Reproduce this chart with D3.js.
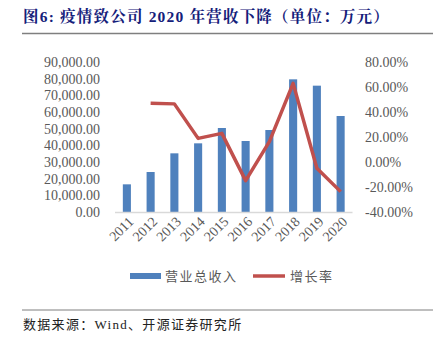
<!DOCTYPE html>
<html><head><meta charset="utf-8">
<script src="https://cdn.jsdelivr.net/npm/d3@7/dist/d3.min.js"></script>
<style>body{margin:0;background:#fff;} svg{display:block;}</style>
</head><body>
<svg id="c" width="445" height="340"></svg>
<script>
const years = ["2011","2012","2013","2014","2015","2016","2017","2018","2019","2020"];
const revenue = [16600, 24000, 35200, 41200, 50400, 42600, 49200, 79600, 75800, 57600];
const growth = [null, 47.0, 46.5, 18.9, 22.9, -14.9, 16.3, 62.9, -5.0, -23.7];
const leftTicks = [0,10000,20000,30000,40000,50000,60000,70000,80000,90000];
const rightTicks = [-40,-20,0,20,40,60,80];
const seriesNames = ["营业总收入","增长率"];

const svg = d3.select("#c");
const serif = "'Liberation Serif','Times New Roman',serif";
const cjk = "'Noto Sans CJK SC',sans-serif";

// Title
svg.append("text").attr("x",23).attr("y",22)
  .attr("font-family", "'Liberation Serif','Noto Serif CJK SC','Noto Sans CJK SC',serif")
  .attr("font-weight","bold").attr("font-size",15.5).attr("fill","#14207a")
  .attr("letter-spacing",1.2)
  .text("图6:  疫情致公司 2020 年营收下降（单位：万元）");
svg.append("line").attr("x1",22).attr("x2",433).attr("y1",33.5).attr("y2",33.5)
  .attr("stroke","#7f7f7f").attr("stroke-width",1.5);

const x = d3.scaleBand().domain(years).range([115,352.5]).paddingInner(0.66).paddingOuter(0.33);
const yL = d3.scaleLinear().domain([0,90000]).range([212,62]);
const yR = d3.scaleLinear().domain([-40,80]).range([212,62]);

// left axis
const fmtL = d3.format(",.2f");
const gL = svg.append("g").attr("transform","translate(100,0)")
  .call(d3.axisLeft(yL).tickValues(leftTicks).tickSize(0).tickPadding(0).tickFormat(fmtL));
gL.select(".domain").remove();
gL.selectAll("text").attr("font-family",serif).attr("font-size",14).attr("fill","#595959");

// right axis
const gR = svg.append("g").attr("transform","translate(365,0)")
  .call(d3.axisRight(yR).tickValues(rightTicks).tickSize(0).tickPadding(0).tickFormat(d=>d.toFixed(2)+"%"));
gR.select(".domain").remove();
gR.selectAll("text").attr("font-family",serif).attr("font-size",14).attr("fill","#595959");

// bars
svg.append("g").selectAll("rect").data(years).join("rect")
  .attr("x",d=>x(d)).attr("width",x.bandwidth())
  .attr("y",(d,i)=>yL(revenue[i])).attr("height",(d,i)=>yL(0)-yL(revenue[i]))
  .attr("fill","#4f81bd");

// x axis line
svg.append("line").attr("x1",115).attr("x2",352.5).attr("y1",212.5).attr("y2",212.5)
  .attr("stroke","#d9d9d9").attr("stroke-width",1.5);

// x labels
svg.append("g").selectAll("text").data(years).join("text")
  .attr("transform",d=>`translate(${x(d)+x.bandwidth()/2+4},219) rotate(-45)`)
  .attr("text-anchor","end").attr("dy","0.35em")
  .attr("font-family",serif).attr("font-size",14).attr("fill","#595959")
  .text(d=>d);

// line
const pts = years.map((d,i)=>({d, v: growth[i]})).filter(p=>p.v!==null);
svg.append("path").datum(pts)
  .attr("d", d3.line().x(p=>x(p.d)+x.bandwidth()/2).y(p=>yR(p.v)))
  .attr("fill","none").attr("stroke","#c0504d").attr("stroke-width",3.5)
  .attr("stroke-linejoin","round");

// legend
svg.append("rect").attr("x",130).attr("y",273).attr("width",31).attr("height",6).attr("fill","#4f81bd");
svg.append("text").attr("x",165).attr("y",281).attr("font-family",cjk).attr("font-size",13)
  .attr("letter-spacing",1.5).attr("fill","#595959").text(seriesNames[0]);
svg.append("line").attr("x1",253).attr("x2",285).attr("y1",276).attr("y2",276)
  .attr("stroke","#c0504d").attr("stroke-width",3.5);
svg.append("text").attr("x",290).attr("y",281).attr("font-family",cjk).attr("font-size",13)
  .attr("letter-spacing",1.5).attr("fill","#595959").text(seriesNames[1]);

// footer
svg.append("line").attr("x1",22).attr("x2",433).attr("y1",310).attr("y2",310)
  .attr("stroke","#7f7f7f").attr("stroke-width",1);
svg.append("text").attr("x",23).attr("y",329)
  .attr("font-family","'Liberation Serif','Noto Sans CJK SC',serif").attr("font-size",13).attr("fill","#222")
  .attr("letter-spacing",1.3)
  .text("数据来源：Wind、开源证券研究所");
</script>
</body></html>
